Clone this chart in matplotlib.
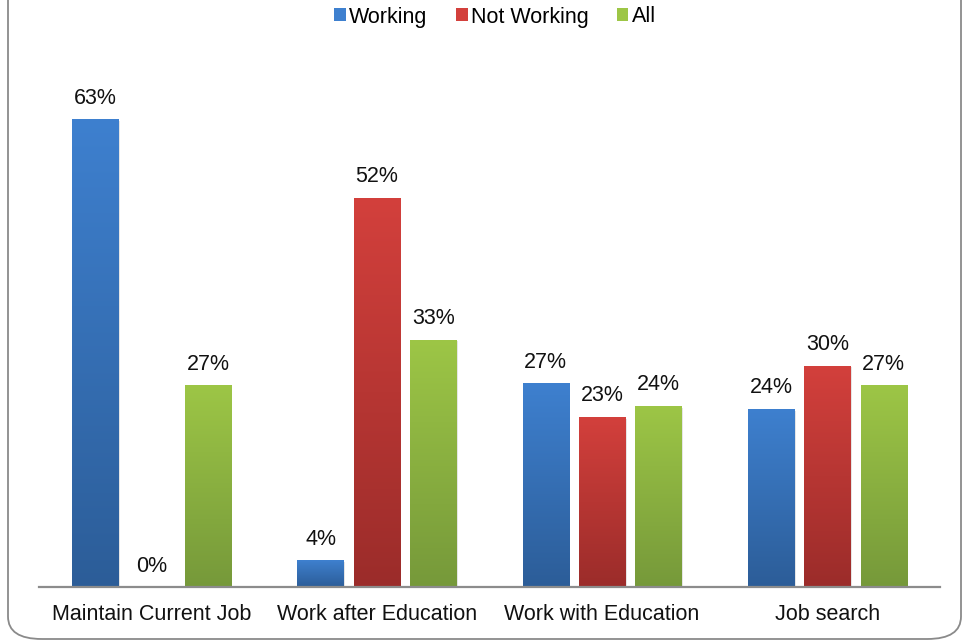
import matplotlib.pyplot as plt
import numpy as np
from matplotlib.colors import LinearSegmentedColormap
from matplotlib.patches import Patch, FancyBboxPatch

plt.rcParams["font.family"] = ["Liberation Sans", "DejaVu Sans"]

categories = ["Maintain Current Job", "Work after Education",
              "Work with Education", "Job search"]
series = ["Working", "Not Working", "All"]
working = [63.0, 3.6, 27.4, 24.0]
not_working = [0.0, 52.4, 22.9, 29.8]
all_resp = [27.2, 33.3, 24.4, 27.2]

# top / bottom colour of each series gradient
top_colors = ["#3e80cf", "#d3403c", "#9dc646"]
bottom_colors = ["#2c5d98", "#9b2c2a", "#76993a"]

fig = plt.figure(figsize=(9.65, 6.41), dpi=100)
ax = fig.add_axes([39 / 965, 1 - 587 / 641, 901 / 965, 520 / 641])

x = np.arange(len(categories))
width = 0.205
offsets = [-0.25, 0.0, 0.25]
grad = np.linspace(0, 1, 256).reshape(-1, 1)
fs = 15.5

for vals, off, c_top, c_bot, name in zip(
        [working, not_working, all_resp], offsets, top_colors, bottom_colors, series):
    cmap = LinearSegmentedColormap.from_list(name, [c_bot, c_top])
    bars = ax.bar(x + off, vals, width, color=c_top, edgecolor="none", zorder=2)
    for b, v in zip(bars, vals):
        x0, w, h = b.get_x(), b.get_width(), b.get_height()
        # soft shadow
        ax.add_patch(plt.Rectangle((x0 + 0.006, -0.25), w, h, color="#000000",
                                   alpha=0.10, lw=0, zorder=1))
        if h > 0:
            im = ax.imshow(grad, cmap=cmap, extent=[x0, x0 + w, 0, h],
                           origin="lower", aspect="auto", zorder=3)
            im.set_clip_path(b)
        ax.text(b.get_x() + w / 2, h + 1.4, f"{v:.0f}%", ha="center",
                va="bottom", fontsize=fs, color="#111111")

ax.set_xlim(-0.5, 3.5)
ax.set_ylim(0, 70)
ax.set_xticks(x)
ax.set_xticklabels(categories, fontsize=fs, color="#111111")
ax.tick_params(axis="x", length=0, pad=12)
ax.set_yticks([])
for s in ["left", "right", "top"]:
    ax.spines[s].set_visible(False)
ax.spines["bottom"].set_color("#8c8c8c")
ax.spines["bottom"].set_linewidth(1.6)
ax.spines["bottom"].set_zorder(4)

handles = [Patch(facecolor=c, edgecolor="none") for c in top_colors]
leg = fig.legend(handles, series, loc="center", bbox_to_anchor=(495 / 965, 1 - 17 / 641),
                 ncol=3, frameon=False, fontsize=fs, handlelength=0.55,
                 handleheight=0.55, handletextpad=0.15, columnspacing=1.3)

# rounded outer frame (top edge lies outside the picture)
frame = FancyBboxPatch((8 / 965, 2 / 641), 953 / 965, 700 / 641,
                       boxstyle="round,pad=0,rounding_size=0.035",
                       transform=fig.transFigure, fill=False,
                       edgecolor="#8a8a8a", linewidth=1.3, zorder=0)
fig.patches.append(frame)

fig.savefig("out.png", dpi=100)
